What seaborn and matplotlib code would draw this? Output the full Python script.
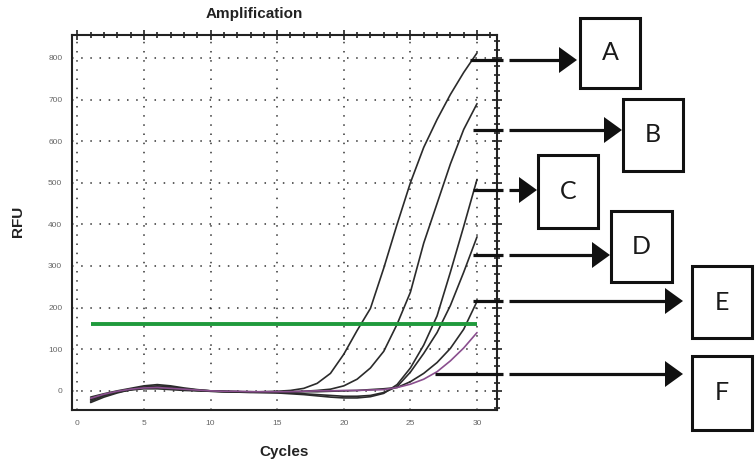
import numpy as np
import pandas as pd
import matplotlib
matplotlib.use("Agg")
import matplotlib.pyplot as plt
import seaborn as sns
from matplotlib.patches import Rectangle, Polygon
from matplotlib.lines import Line2D
from matplotlib.ticker import MultipleLocator

# amplification data (RFU per cycle)
cycles = list(range(1, 31))
rfu_a = [-22, -10, -3, 2, 5, 5, 3, 1, 0, -1, -2, -2, -3, -2, -1, 1, 6, 18, 42, 88,
         145, 198, 295, 400, 500, 585, 652, 712, 765, 812]
rfu_b = [-28, -15, -5, 3, 9, 12, 10, 5, 2, 0, -1, -2, -3, -3, -3, -2, -1, 1, 4, 12,
         28, 55, 95, 160, 237, 355, 450, 545, 628, 690]
rfu_c = [-15, -7, 0, 6, 12, 15, 12, 7, 3, 0, -2, -3, -4, -4, -5, -7, -9, -12, -15, -17,
         -17, -14, -6, 15, 55, 110, 180, 285, 395, 508]
rfu_d = [-20, -9, -2, 4, 8, 9, 7, 4, 1, -1, -2, -3, -3, -4, -4, -5, -7, -9, -11, -13,
         -13, -11, -4, 10, 45, 90, 140, 205, 285, 370]
rfu_e = [-25, -12, -3, 3, 7, 8, 6, 3, 1, 0, -1, -2, -2, -3, -3, -3, -2, -2, -1, 0,
         1, 3, 5, 8, 22, 42, 68, 102, 148, 215]
rfu_f = [-18, -8, -1, 4, 7, 8, 6, 4, 2, 0, -1, -1, -2, -2, -2, -2, -1, 0, 0, 1,
         1, 2, 3, 8, 16, 28, 46, 72, 103, 140]
samples = ["A", "B", "C", "D", "E", "F"]
threshold = 160
x_ticks = [0, 5, 10, 15, 20, 25, 30]
y_ticks = [0, 100, 200, 300, 400, 500, 600, 700, 800]

series = [rfu_a, rfu_b, rfu_c, rfu_d, rfu_e, rfu_f]
df = pd.DataFrame({
    "cycle": cycles * len(samples),
    "rfu": [v for s in series for v in s],
    "sample": [name for name in samples for _ in cycles],
})
pal = {"A": "#2b2b2b", "B": "#2b2b2b", "C": "#2b2b2b", "D": "#2b2b2b",
       "E": "#2b2b2b", "F": "#8a4f8e"}

sns.set_theme(style="white")
plt.rcParams['font.family'] = ['Liberation Sans', 'DejaVu Sans']

W, H = 756, 466
fig = plt.figure(figsize=(W / 100, H / 100), dpi=100)
ax = fig.add_axes([72 / W, 1 - 410 / H, 425 / W, 375 / H])

sns.lineplot(data=df, x="cycle", y="rfu", hue="sample", palette=pal,
             legend=False, ax=ax, linewidth=1.2)
ax.hlines(threshold, cycles[0], cycles[-1], color="#1f9a3c", linewidth=2.8, zorder=3)

ax.set_xlim(-0.4, 31.5)
ax.set_ylim(-46, 855)
ax.set_xticks(x_ticks)
ax.set_yticks(y_ticks)
ax.xaxis.set_minor_locator(MultipleLocator(1))
ax.yaxis.set_minor_locator(MultipleLocator(20))
ax.grid(True, which="major", color="#333333", linestyle=(0, (1, 5)), linewidth=1.1)
ax.tick_params(which="both", direction="inout", top=True, right=True,
               colors="#222222", labelcolor="#666666", labelsize=6, width=1.2)
ax.tick_params(which="major", length=7)
ax.tick_params(which="minor", length=4)
for sp in ax.spines.values():
    sp.set_color("#222222")
    sp.set_linewidth(1.5)
ax.set_xlabel("")
ax.set_ylabel("")

fig.text(254 / W, 1 - 14 / H, "Amplification", ha="center", va="center",
         fontsize=11, fontweight="bold", color="#222222")
fig.text(284 / W, 1 - 452 / H, "Cycles", ha="center", va="center",
         fontsize=11, fontweight="bold", color="#222222")
fig.text(18 / W, 1 - 221 / H, "RFU", ha="center", va="center", rotation=90,
         fontsize=11, fontweight="bold", color="#222222")

# callout layout in pixels: leader y, leader start x, arrow tip x, box (x0, y0, x1, y1)
label_y = [60, 130, 190, 255, 301, 374]
leader_x0 = [470, 473, 473, 473, 473, 435]
tip_x = [577, 622, 537, 610, 683, 683]
boxes = [(580, 18, 640, 88), (623, 99, 683, 171), (538, 155, 598, 228),
         (611, 211, 672, 282), (692, 266, 752, 338), (692, 356, 752, 430)]


def fx(x):
    return x / W


def fy(y):
    return 1 - y / H


for name, y, x0, xt, (bx0, by0, bx1, by1) in zip(samples, label_y, leader_x0, tip_x, boxes):
    fig.add_artist(Line2D([fx(x0), fx(503)], [fy(y), fy(y)], color="#111111",
                          linewidth=2.3, solid_capstyle="butt"))
    fig.add_artist(Line2D([fx(509), fx(xt - 14)], [fy(y), fy(y)], color="#111111",
                          linewidth=2.3, solid_capstyle="butt"))
    fig.add_artist(Polygon([(fx(xt), fy(y)), (fx(xt - 18), fy(y - 13)),
                            (fx(xt - 18), fy(y + 13))], closed=True,
                           facecolor="#111111", edgecolor="none"))
    fig.add_artist(Rectangle((fx(bx0), fy(by1)), fx(bx1) - fx(bx0), fy(by0) - fy(by1),
                             facecolor="white", edgecolor="#111111", linewidth=2.2))
    fig.text(fx((bx0 + bx1) / 2), fy((by0 + by1) / 2), name, ha="center", va="center",
             fontsize=18, color="#1a1a1a", family=['Lato', 'DejaVu Sans'])

fig.savefig("out.png", dpi=100, facecolor="white")
